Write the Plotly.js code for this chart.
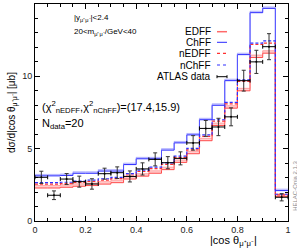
<!DOCTYPE html>
<html><head><meta charset="utf-8">
<script src="https://cdn.plot.ly/plotly-3.0.1.min.js"></script>
<style>html,body{margin:0;padding:0;background:#fff}#chart{width:297px;height:250px}</style>
</head><body><div id="chart"></div>
<script>
// bin centres of |cos theta|
const binCenters = [0.025,0.075,0.125,0.175,0.225,0.275,0.325,0.375,0.425,0.475,0.525,0.575,0.625,0.675,0.725,0.775,0.825,0.875,0.925,0.975];
const binHalfWidth = 0.025;
// theory histograms
const chff     = [3.12,3.12,3.15,3.3,3.3,3.45,3.45,3.9,4.3,4.3,4.9,5.4,5.95,7.0,8.0,9.7,11.5,14.4,14.7,2.1];
const chffHi   = [3.22,3.22,3.25,3.4,3.4,3.55,3.55,4.0,4.4,4.4,5.0,5.5,6.05,7.1,8.1,9.8,11.6,14.5,14.8,2.2];
const nchff    = [2.65,2.65,2.68,2.75,2.82,2.92,3.02,3.28,3.52,3.72,4.02,4.48,5.02,5.95,7.0,8.2,9.75,12.3,12.45,1.85];
const nedff    = [2.55,2.55,2.58,2.66,2.73,2.83,2.93,3.18,3.42,3.62,3.92,4.38,4.92,5.85,6.9,8.1,9.65,12.2,12.3,1.8];
const edff     = [2.28,2.28,2.33,2.4,2.45,2.55,2.65,2.9,3.1,3.3,3.55,4.05,4.65,5.55,6.6,7.8,9.0,11.3,11.6,1.7];
const edffHi   = [2.45,2.45,2.5,2.57,2.62,2.72,2.82,3.07,3.27,3.47,3.72,4.22,4.82,5.72,6.77,7.97,9.17,11.47,11.77,1.87];
// ATLAS data
const atlas    = [3.02,1.78,2.9,2.72,2.56,3.27,3.34,3.08,3.6,4.26,4.03,4.33,5.4,6.4,6.5,7.2,9.7,11.0,12.05,1.64];
const atlasErr = [0.42,0.3,0.38,0.38,0.36,0.38,0.4,0.38,0.42,0.45,0.42,0.45,0.5,0.55,0.6,0.62,0.72,0.8,0.9,0.25];
const yTicks = [0,5,10,15];
const xTicks = [0,0.2,0.4,0.6,0.8,1];

function stepX(){ const e = binCenters.map(c=>c-binHalfWidth); e.push(binCenters[binCenters.length-1]+binHalfWidth); return e; }
function stepY(v){ const a=v.slice(); a.push(v[v.length-1]); return a; }
const xs = stepX();

const traces = [
  {x:xs,y:stepY(edff),mode:'lines',line:{shape:'hv',color:'rgba(255,60,60,0.9)',width:1},hoverinfo:'skip'},
  {x:xs,y:stepY(edffHi),mode:'lines',line:{shape:'hv',color:'rgba(255,120,120,0.6)',width:1},fill:'tonexty',fillcolor:'rgba(255,120,120,0.35)',hoverinfo:'skip'},
  {x:xs,y:stepY(chff),mode:'lines',line:{shape:'hv',color:'rgba(40,40,255,1)',width:1},hoverinfo:'skip'},
  {x:xs,y:stepY(chffHi),mode:'lines',line:{shape:'hv',color:'rgba(120,120,255,0.5)',width:1},fill:'tonexty',fillcolor:'rgba(120,120,255,0.25)',hoverinfo:'skip'},
  {x:xs,y:stepY(nedff),mode:'lines',line:{shape:'hv',color:'#ff3030',width:1.2,dash:'3px,2px'},hoverinfo:'skip'},
  {x:xs,y:stepY(nchff),mode:'lines',line:{shape:'hv',color:'#3030ff',width:1.2,dash:'3px,2px'},hoverinfo:'skip'},
  {x:binCenters,y:atlas,mode:'markers',marker:{size:2,color:'#000'},
   error_y:{type:'data',array:atlasErr,visible:true,color:'#333',thickness:1,width:2},
   error_x:{type:'constant',value:binHalfWidth,visible:true,color:'#000',thickness:1,width:2},hoverinfo:'skip'}
];

const F = 'Liberation Sans, Arial, sans-serif';
function px2x(p){return (p-35)/253;}
function px2y(p){return (221-p)/217;}
const legItems = [
  {t:'EDFF',y:31.7,c:'rgba(255,90,90,0.9)',d:'solid',w:1.5},
  {t:'ChFF',y:42.3,c:'#2828ff',d:'solid',w:1},
  {t:'nEDFF',y:53.3,c:'#ff3030',d:'dot',w:1.2},
  {t:'nChFF',y:65,c:'#3030ff',d:'dot',w:1.2},
  {t:'ATLAS data',y:76.7,c:'#000',d:'solid',w:1}
];
const annotations = [
  {xref:'paper',yref:'paper',x:px2x(72),y:px2y(18),xanchor:'left',yanchor:'middle',showarrow:false,text:'|y<sub>μ⁺μ⁻</sub>|<2.4',font:{family:F,size:8,color:'#000'}},
  {xref:'paper',yref:'paper',x:px2x(72),y:px2y(32),xanchor:'left',yanchor:'middle',showarrow:false,text:'20<m<sub>μ⁺μ⁻</sub>/GeV<40',font:{family:F,size:8,color:'#000'}},
  {xref:'paper',yref:'paper',x:px2x(40),y:px2y(107),xanchor:'left',yanchor:'middle',showarrow:false,text:'(χ<sup>2</sup><sub>nEDFF</sub>,χ<sup>2</sup><sub>nChFF</sub>)=(17.4,15.9)',font:{family:F,size:11,color:'#000'}},
  {xref:'paper',yref:'paper',x:px2x(40),y:px2y(124),xanchor:'left',yanchor:'middle',showarrow:false,text:'N<sub>data</sub>=20',font:{family:F,size:11,color:'#000'}},
  {xref:'paper',yref:'paper',x:px2x(233),y:px2y(241),xanchor:'center',yanchor:'middle',showarrow:false,text:'|cos θ<sub>μ⁺μ⁻</sub>|',font:{family:F,size:11,color:'#000'}},
  {xref:'paper',yref:'paper',x:1.027,y:px2y(186),xanchor:'center',yanchor:'middle',textangle:-90,showarrow:false,text:'HELAC-Onia 2.1.3',font:{family:F,size:6,color:'#888'}}
];
const shapes = [];
legItems.forEach(it=>{
  annotations.push({xref:'paper',yref:'paper',x:px2x(213),y:px2y(it.y),xanchor:'right',yanchor:'middle',showarrow:false,text:it.t,font:{family:F,size:10,color:'#000'}});
  shapes.push({type:'line',xref:'paper',yref:'paper',x0:px2x(217),x1:px2x(227),y0:px2y(it.y),y1:px2y(it.y),line:{color:it.c,width:it.w,dash:it.d}});
  if(it.t==='ATLAS data'){
    shapes.push({type:'line',xref:'paper',yref:'paper',x0:px2x(217),x1:px2x(217),y0:px2y(it.y-1.5),y1:px2y(it.y+1.5),line:{color:'#000',width:1}});
    shapes.push({type:'line',xref:'paper',yref:'paper',x0:px2x(227),x1:px2x(227),y0:px2y(it.y-1.5),y1:px2y(it.y+1.5),line:{color:'#000',width:1}});
  }
});

const layout = {
  width:297,height:250,margin:{l:35,r:9,t:4,b:29},
  paper_bgcolor:'#fff',plot_bgcolor:'#fff',showlegend:false,
  font:{family:F,size:9,color:'#000'},
  xaxis:{range:[0,1],tickvals:xTicks,ticktext:xTicks.map(String),ticks:'inside',ticklen:5,tickcolor:'#000',
    showline:true,linecolor:'#000',linewidth:1,mirror:'allticks',showgrid:false,zeroline:false,
    tickfont:{family:F,size:9,color:'#222'},minor:{dtick:0.05,ticks:'inside',ticklen:3,tickcolor:'#000',showgrid:false}},
  yaxis:{range:[0,15],tickvals:yTicks,ticktext:yTicks.map(String),ticks:'inside',ticklen:5,tickcolor:'#000',
    showline:true,linecolor:'#000',linewidth:1,mirror:'allticks',showgrid:false,zeroline:false,
    tickfont:{family:F,size:9,color:'#222'},minor:{dtick:1,ticks:'inside',ticklen:3,tickcolor:'#000',showgrid:false},
    title:{text:'dσ/d|cos θ<sub>μ⁺μ⁻</sub>| [μb]',font:{family:F,size:10,color:'#000'},standoff:4}},
  annotations:annotations,shapes:shapes
};
Plotly.newPlot('chart',traces,layout,{staticPlot:true,displayModeBar:false});
</script></body></html>
